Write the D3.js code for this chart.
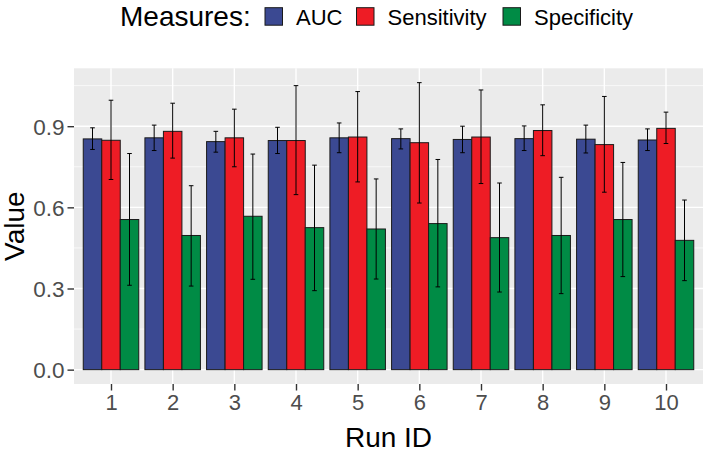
<!DOCTYPE html>
<html><head><meta charset="utf-8">
<script src="https://cdn.jsdelivr.net/npm/d3@7"></script>
<style>
body{margin:0;background:#fff;}
svg{display:block;font-family:"Liberation Sans",Arial,Helvetica,sans-serif;}
</style></head>
<body><svg id="c" width="706" height="451"></svg>
<script>
const runs = ["1","2","3","4","5","6","7","8","9","10"];
const measures = ["AUC","Sensitivity","Specificity"];
const colors = ["#3B4992","#EE1C25","#008B45"];
const aucMean  = [0.853,0.857,0.843,0.847,0.857,0.854,0.851,0.854,0.852,0.849];
const aucLo    = [0.814,0.810,0.804,0.799,0.802,0.816,0.802,0.810,0.801,0.810];
const aucHi    = [0.894,0.904,0.881,0.896,0.912,0.890,0.900,0.901,0.904,0.890];
const sensMean = [0.848,0.881,0.857,0.847,0.860,0.839,0.860,0.884,0.832,0.892];
const sensLo   = [0.703,0.782,0.750,0.647,0.694,0.616,0.688,0.791,0.656,0.836];
const sensHi   = [0.996,0.985,0.963,1.050,1.028,1.061,1.034,0.979,1.010,0.952];
const specMean = [0.555,0.496,0.567,0.525,0.520,0.540,0.488,0.496,0.555,0.478];
const specLo   = [0.312,0.309,0.334,0.292,0.335,0.306,0.287,0.281,0.344,0.329];
const specHi   = [0.799,0.680,0.797,0.756,0.705,0.777,0.690,0.711,0.766,0.627];
const yTicks = [0, 0.3, 0.6, 0.9];
const yMinor = [0.15, 0.45, 0.75, 1.05];

const series = [
  {m: measures[0], mean: aucMean, lo: aucLo, hi: aucHi},
  {m: measures[1], mean: sensMean, lo: sensLo, hi: sensHi},
  {m: measures[2], mean: specMean, lo: specLo, hi: specHi}
];
const rows = [];
runs.forEach((r, i) => series.forEach(s => rows.push({run: r, m: s.m, v: s.mean[i], lo: s.lo[i], hi: s.hi[i]})));

const svg = d3.select("#c");
const L = 74, R = 703, T = 68.3, B = 384;

const maxV = d3.max(rows, d => d.hi);
const exp = 0.05 * maxV;
const y = d3.scaleLinear().domain([-exp, maxV + exp]).range([B, T]);
// discrete x with 0.6 expansion on each side
const x = d3.scaleBand().domain(runs).range([L, R]).paddingOuter(0.6 / 1).paddingInner(0);
// scaleBand with paddingInner 0: step = W/(n + 2*outer) ; set manually
const n = runs.length;
const step = (R - L) / (n - 1 + 1.2);
const xc = d3.scalePoint().domain(runs).range([L + 0.6 * step, R - 0.6 * step]);
const groupW = 0.9 * step;
const xs = d3.scaleBand().domain(measures).range([-groupW / 2, groupW / 2]).padding(0);
const color = d3.scaleOrdinal().domain(measures).range(colors);

// panel
svg.append("rect").attr("x", L).attr("y", T).attr("width", R - L).attr("height", B - T).attr("fill", "#EBEBEB");
const g = svg.append("g");
yMinor.forEach(v => g.append("line").attr("x1", L).attr("x2", R).attr("y1", y(v)).attr("y2", y(v)).attr("stroke", "#fff").attr("stroke-width", 0.7));
yTicks.forEach(v => g.append("line").attr("x1", L).attr("x2", R).attr("y1", y(v)).attr("y2", y(v)).attr("stroke", "#fff").attr("stroke-width", 1.4));
runs.forEach(r => g.append("line").attr("x1", xc(r)).attr("x2", xc(r)).attr("y1", T).attr("y2", B).attr("stroke", "#fff").attr("stroke-width", 1.4));

// bars
svg.append("g").selectAll("rect").data(rows).join("rect")
  .attr("x", d => xc(d.run) + xs(d.m))
  .attr("y", d => y(d.v))
  .attr("width", xs.bandwidth())
  .attr("height", d => y(0) - y(d.v))
  .attr("fill", d => color(d.m))
  .attr("stroke", "#1a1a1a").attr("stroke-width", 1);

// error bars
const eg = svg.append("g").attr("stroke", "#000").attr("stroke-width", 1);
const cap = 2.3;
rows.forEach(d => {
  const cx = xc(d.run) + xs(d.m) + xs.bandwidth() / 2;
  eg.append("line").attr("x1", cx).attr("x2", cx).attr("y1", y(d.lo)).attr("y2", y(d.hi));
  eg.append("line").attr("x1", cx - cap).attr("x2", cx + cap).attr("y1", y(d.lo)).attr("y2", y(d.lo));
  eg.append("line").attr("x1", cx - cap).attr("x2", cx + cap).attr("y1", y(d.hi)).attr("y2", y(d.hi));
});

// axes
const yAxis = svg.append("g").attr("transform", `translate(${L},0)`)
  .call(d3.axisLeft(y).tickValues(yTicks).tickFormat(d3.format(".1f")).tickSize(6.5).tickPadding(3));
yAxis.select(".domain").remove();
yAxis.selectAll("line").attr("stroke", "#333").attr("stroke-width", 1.4);
yAxis.selectAll("text").attr("fill", "#4D4D4D").style("font-size", "22.5px").attr("dy", "0.36em");

const xAxis = svg.append("g").attr("transform", `translate(0,${B})`)
  .call(d3.axisBottom(xc).tickSize(6.5).tickPadding(4));
xAxis.select(".domain").remove();
xAxis.selectAll("line").attr("stroke", "#333").attr("stroke-width", 1.4);
xAxis.selectAll("text").attr("fill", "#4D4D4D").style("font-size", "22px");

// titles
svg.append("text").attr("x", (L + R) / 2).attr("y", 446.5).attr("text-anchor", "middle")
  .style("font-size", "28px").attr("fill", "#000").text("Run ID");
svg.append("text").attr("transform", `translate(23.5,${(T + B) / 2}) rotate(-90)`).attr("text-anchor", "middle")
  .style("font-size", "28px").attr("fill", "#000").text("Value");

// legend
const lg = svg.append("g");
lg.append("text").attr("x", 120).attr("y", 26).style("font-size", "28px").attr("fill", "#000").text("Measures:");
const legX = [265, 356.5, 503];
measures.forEach((m, i) => {
  lg.append("rect").attr("x", legX[i]).attr("y", 7.7).attr("width", 17.5).attr("height", 17.5)
    .attr("fill", color(m)).attr("stroke", "#1a1a1a").attr("stroke-width", 1);
  lg.append("text").attr("x", legX[i] + 31).attr("y", 25).style("font-size", "22px").attr("fill", "#000").text(m);
});
</script></body></html>
